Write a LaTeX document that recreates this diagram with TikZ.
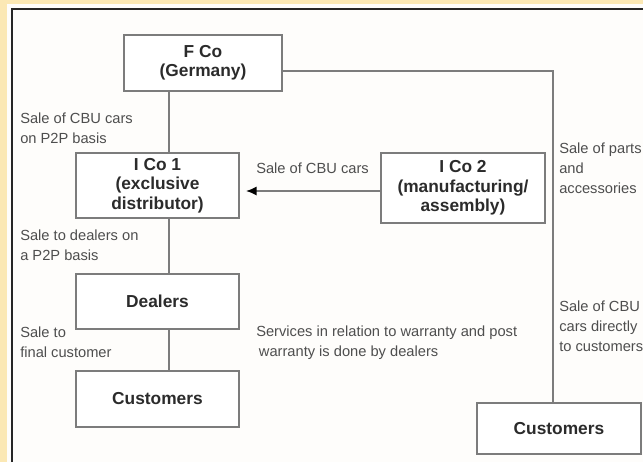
\documentclass[tikz,border=0pt]{standalone}
\usepackage{fontspec}
\setmainfont{Liberation Sans}
\usetikzlibrary{positioning, arrows.meta}
\definecolor{paper}{HTML}{FBE8B4}
\definecolor{sheet}{HTML}{FEFDFB}
\definecolor{edge}{HTML}{7C7C7C}
\definecolor{ink}{HTML}{2B2B2B}
\definecolor{note}{HTML}{4E4E4E}
\tikzset{
  ent/.style={draw=edge, line width=1.4pt, fill=white, align=center, inner sep=0pt,
    font=\fontsize{13}{14.5}\selectfont\bfseries, text=ink},
  sz/.style 2 args={minimum width=#1*0.75pt, minimum height=#2*0.75pt},
  lbl/.style={anchor=west, align=left, inner sep=0pt, font=\fontsize{11}{15}\selectfont, text=note},
  link/.style={draw=edge, line width=1.4pt},
  sale/.style={link, -{Latex[length=8pt, width=7pt, color=black]}, shorten >=4.5pt},
}

\begin{document}
\begin{tikzpicture}[x=0.75pt, y=-0.75pt]
\useasboundingbox (0,0) rectangle (643,462);

% ── Fondo y marco ───────────────────────────────────────────
\fill[paper] (0,0) rectangle (643,462);
\fill[sheet] (7,4) rectangle (643,462);
\draw[black!85, line width=1.9pt] (12,462) -- (12,9) -- (643,9);

% ── Columna izquierda ───────────────────────────────────────
\node[ent, sz={158}{56}] (fco) at (203,63) {F Co\\(Germany)};
\node[ent, sz={163}{65}] (ico1) at (157.5,185.5) {I Co 1\\(exclusive\\distributor)};
\node[ent, sz={163}{55}, below=40.5pt of ico1] (dealers) {Dealers};
\node[ent, sz={163}{56}, below=30pt of dealers] (custa) {Customers};

% ── Columna derecha ─────────────────────────────────────────
\node[ent, sz={164}{70}] (ico2) at (463,188) {I Co 2\\(manufacturing/\\assembly)};
\node[ent, sz={164}{51}] (custb) at (559,428.5) {Customers};

% ── Textos ──────────────────────────────────────────────────
\node[lbl] (tcbu) at (20,128.5) {Sale of CBU cars\\on P2P basis};
\node[lbl] (tdeal) at (20,245.5) {Sale to dealers on\\a P2P basis};
\node[lbl] (tfinal) at (20,342) {Sale to\\final customer};
\node[lbl] (tmid) at (256,168) {Sale of CBU cars};
\node[lbl] (tparts) at (559,168) {Sale of parts\\and\\accessories};
\node[lbl] (tdirect) at (559,326) {Sale of CBU\\cars directly\\to customers};
\node[lbl] (tserv) at (256,343) {Services in relation to warranty and post\\\hspace{2pt}warranty is done by dealers};

% ── Relaciones ──────────────────────────────────────────────
\coordinate (spine) at (169,0);
\coordinate (turn) at (553,71);
\coordinate (lvl) at (0,191);

\draw[link] (spine |- fco.south) -- (spine |- ico1.north);
\draw[link] (spine |- ico1.south) -- (spine |- dealers.north);
\draw[link] (spine |- dealers.south) -- (spine |- custa.north);
\draw[link] (fco.east |- turn) -- (turn) -- (turn |- custb.north);
\draw[sale] (ico2.west |- lvl) -- (ico1.east |- lvl);

\end{tikzpicture}
\end{document}
